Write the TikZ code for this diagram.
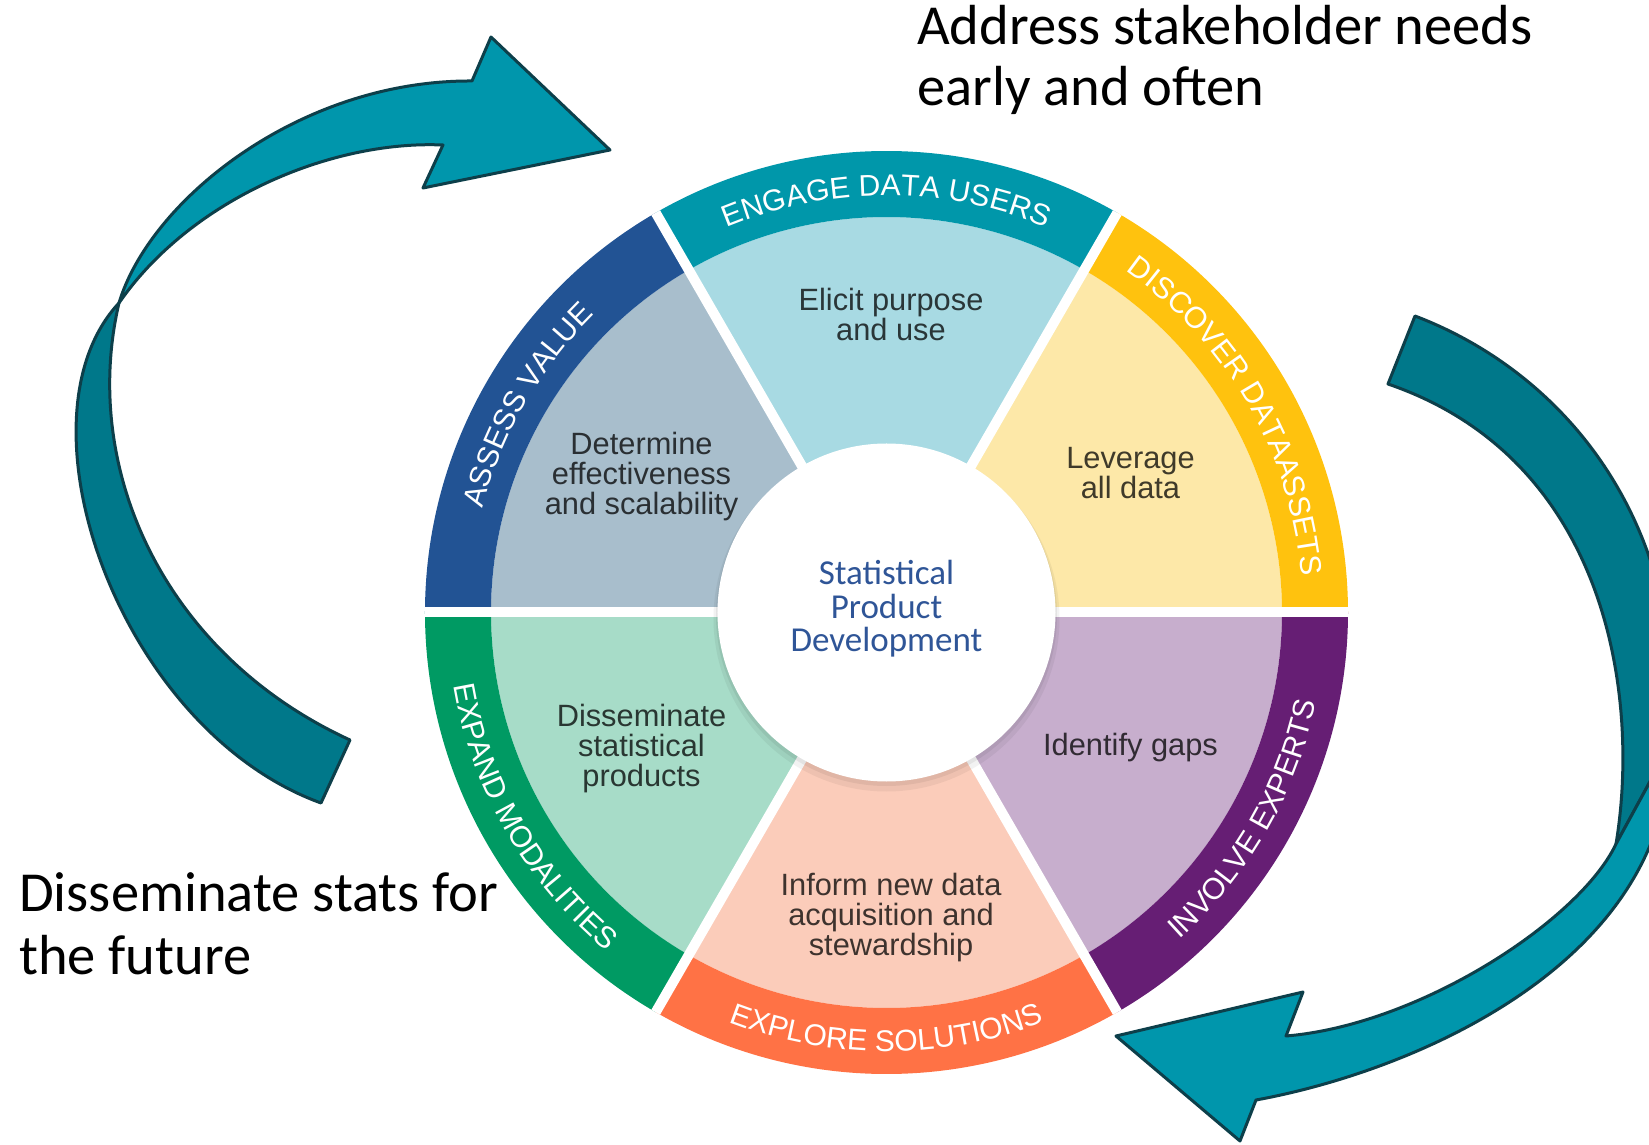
\documentclass[tikz,border=0pt]{standalone}
\usepackage{fontspec}
\setmainfont{Liberation Sans}
\newfontfamily\calibfam{Carlito}
\usetikzlibrary{decorations.text}
\definecolor{engB}{HTML}{0097AA}\definecolor{engL}{HTML}{A8DAE3}
\definecolor{discB}{HTML}{FFC20E}\definecolor{discL}{HTML}{FDE8A8}
\definecolor{invB}{HTML}{661E74}\definecolor{invL}{HTML}{C7AECD}
\definecolor{explB}{HTML}{FF7245}\definecolor{explL}{HTML}{FBCCBA}
\definecolor{expB}{HTML}{009A63}\definecolor{expL}{HTML}{A7DCC8}
\definecolor{assB}{HTML}{225394}\definecolor{assL}{HTML}{A8BECC}
\definecolor{arrlight}{HTML}{0096AC}\definecolor{arrdark}{HTML}{00788A}
\definecolor{arrline}{HTML}{0D3F4A}\definecolor{hubtxt}{HTML}{2F5597}
\newcommand\bandfont{\fontsize{30}{30}\selectfont}
\begin{document}
\begin{tikzpicture}[x=1pt,y=1pt,
  sectxt/.style={font=\fontsize{30.8}{30}\selectfont, align=center, text=black, text opacity=0.75, inner sep=0pt},
  hubtext/.style={font=\calibfam\fontsize{35}{33.5}\selectfont, align=center, text=hubtxt, inner sep=0pt},
  anno/.style={font=\calibfam\fontsize{56.5}{60}\selectfont, text=black, inner sep=0pt, anchor=base west},
  hub/.style={circle, fill=white, minimum size=338pt, inner sep=0pt},
  toplabel/.style={decorate, decoration={text along path, text={|\bandfont|#1}, text align=center, text color=white}},
  arrface/.style={fill=#1, draw=arrline, line width=3pt, line join=round}]
\useasboundingbox (-886.5,-532.5) rectangle (762.5,612.5);
\fill[white] (-886.5,-532.5) rectangle (762.5,612.5);
% wheel
\foreach \a/\band/\inner in {0/discB/discL, 60/engB/engL, 120/assB/assL, 180/expB/expL, 240/explB/explL, 300/invB/invL}{
  \fill[\inner] (0,0) -- (\a:395.5) arc[start angle=\a, end angle=\a+60, radius=395.5] -- cycle;
  \fill[\band] (\a:395.5) arc[start angle=\a, end angle=\a+60, radius=395.5] -- (\a+60:461.5) arc[start angle=\a+60, end angle=\a, radius=461.5] -- cycle;
}
\foreach \a in {0,60,...,300}{
  \draw[white, line width=10pt] (0,0) -- (\a:461.6);
}
% band labels
\path[toplabel={ENGAGE DATA USERS}] (120:417) arc[start angle=120, end angle=60, radius=417];
\path[toplabel={DISCOVER DATAASSETS}] (60:417) arc[start angle=60, end angle=0, radius=417];
\path[toplabel={ASSESS VALUE}] (180:417) arc[start angle=180, end angle=120, radius=417];
\path[toplabel={EXPAND MODALITIES}] (180:439) arc[start angle=180, end angle=240, radius=439];
\path[toplabel={EXPLORE SOLUTIONS}] (240:439) arc[start angle=240, end angle=300, radius=439];
\path[toplabel={INVOLVE EXPERTS}] (300:439) arc[start angle=300, end angle=360, radius=439];
% hub
\fill[black, opacity=0.05] (0,-6) circle (173);
\fill[black, opacity=0.06] (0,-3) circle (170.5);
\node[hub] (hub) at (0,0) {};
\node[hubtext] (spd) at (0,3.5) {Statistical\\Product\\Development};
% sector texts
\node[sectxt] (elicit) at (4.5,298) {Elicit purpose\\and use};
\node[sectxt] (leverage) at (244,139) {Leverage\\all data};
\node[sectxt] (determine) at (-245,135.5) {Determine\\effectiveness\\and scalability};
\node[sectxt] (dissem) at (-245,-136.5) {Disseminate\\statistical\\products};
\node[sectxt] (gaps) at (244,-135.5) {Identify gaps};
\node[sectxt] (inform) at (4.5,-305) {Inform new data\\acquisition and\\stewardship};
% annotations
\node[anno] (addr1) at (30.5,567.5) {Address stakeholder needs};
\node[anno] (addr2) at (30.5,506.5) {early and often};
\node[anno] (dis1) at (-867.5,-298.5) {Disseminate stats for};
\node[anno] (dis2) at (-867.5,-361.5) {the future};
% curved arrows (image coordinates)
\begin{scope}[shift={(-886.5pt,612.5pt)}, x=1pt, y=-1pt]
  \clip (0,0) rectangle (1649,1145);
  % left arrow
  \path[arrface=arrdark] (321,803) .. controls (120,730) and (10,420) .. (119,303)
    .. controls (80,470) and (165,655) .. (350,740) -- cycle;
  \path[arrface=arrlight] (119,303) .. controls (150,200) and (300,80) .. (472,81)
    -- (491,37) -- (610,150) -- (423,188) -- (443,145)
    .. controls (330,140) and (190,200) .. (119,303) -- cycle;
  % right arrow
  \path[arrface=arrdark] (1415,316) .. controls (1570,375) and (1690,530) .. (1670,745)
    -- (1616,844) .. controls (1640,700) and (1610,460) .. (1388,384) -- cycle;
  \path[arrface=arrlight] (1670,745) -- (1616,844)
    .. controls (1580,920) and (1420,1025) .. (1286,1036)
    -- (1303,992) -- (1116,1036) -- (1240,1141) -- (1256,1100)
    .. controls (1420,1070) and (1670,960) .. (1670,745) -- cycle;
\end{scope}
\end{tikzpicture}
\end{document}
